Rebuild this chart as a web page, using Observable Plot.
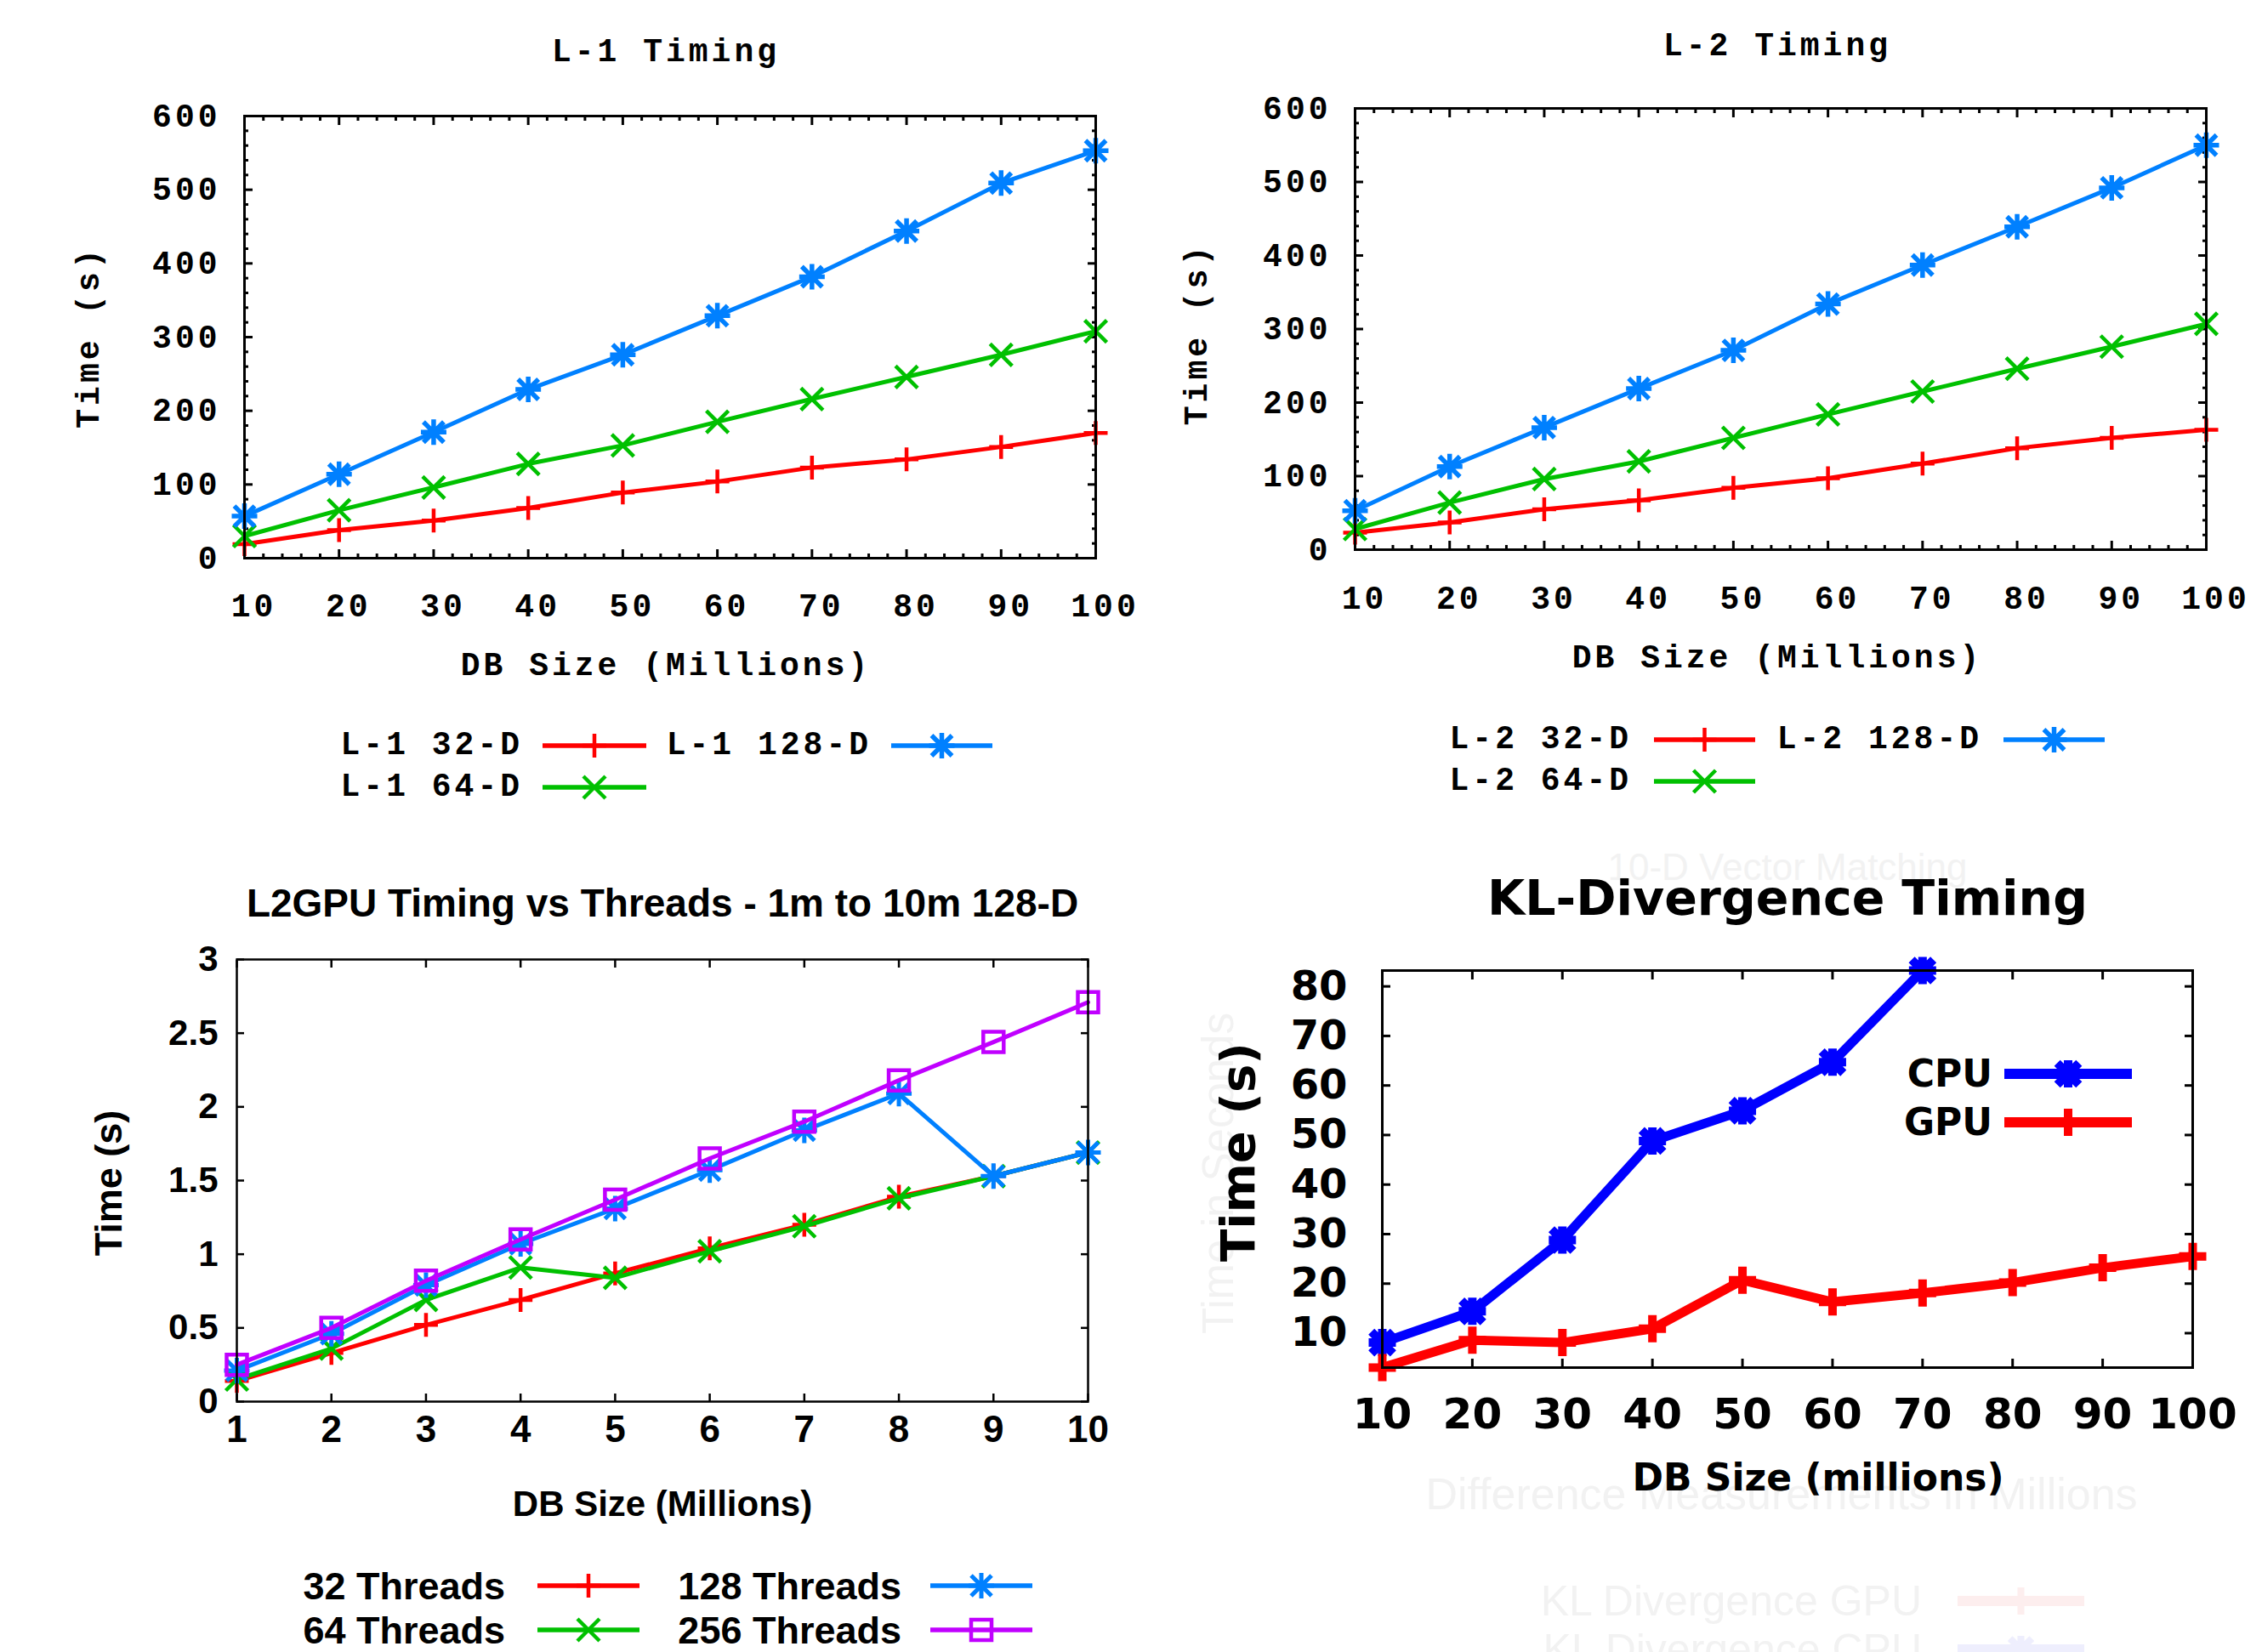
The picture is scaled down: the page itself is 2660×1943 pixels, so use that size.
<!DOCTYPE html>
<html><head><meta charset="utf-8">
<script src="https://cdn.jsdelivr.net/npm/d3@7"></script>
<script src="https://cdn.jsdelivr.net/npm/@observablehq/plot@0.6"></script>
<style>
html,body{margin:0;padding:0;background:#fff;}
#page{position:relative;width:2660px;height:1943px;overflow:hidden;background:#fff;}
</style></head>
<body><div id="page"></div>
<script>
// ---------------- DATA ----------------
const dbSizeM   = [10, 20, 30, 40, 50, 60, 70, 80, 90, 100];
// L-1 timing (s)
const l1_32D  = [19, 38, 51, 68, 89, 104, 123, 134, 151, 170];
const l1_64D  = [30, 65, 96, 128, 153, 185, 216, 246, 276, 308];
const l1_128D = [57, 114, 171, 229, 276, 329, 382, 444, 509, 553];
// L-2 timing (s)
const l2_32D  = [23, 37, 55, 67, 84, 97, 117, 138, 152, 163];
const l2_64D  = [28, 64, 96, 120, 152, 184, 215, 246, 276, 307];
const l2_128D = [53, 113, 166, 219, 271, 334, 387, 439, 492, 550];
// L2GPU timing vs threads (s)
const gpuDbSizeM = [1, 2, 3, 4, 5, 6, 7, 8, 9, 10];
const threads32  = [0.14, 0.33, 0.52, 0.69, 0.87, 1.04, 1.20, 1.39, 1.53, 1.69];
const threads64  = [0.15, 0.36, 0.69, 0.91, 0.84, 1.02, 1.19, 1.38, 1.53, 1.69];
const threads128 = [0.21, 0.46, 0.79, 1.07, 1.31, 1.57, 1.84, 2.09, 1.53, 1.69];
const threads256 = [0.25, 0.50, 0.82, 1.10, 1.37, 1.65, 1.90, 2.18, 2.44, 2.71];
// KL-Divergence timing (s)
const klDbSizeM = [10, 20, 30, 40, 50, 60, 70, 80, 90, 100];
const klCPU = [8.1, 14.4, 28.8, 48.8, 54.9, 64.7, 83.2];
const klGPU = [3.05, 8.6, 8.1, 10.9, 20.7, 16.3, 18.1, 20.2, 23.2, 25.5];
// tick labels
const timeTicks600 = [0, 100, 200, 300, 400, 500, 600];
const gpuTimeTicks = [0, 0.5, 1, 1.5, 2, 2.5, 3];
const klTimeTicks = [10, 20, 30, 40, 50, 60, 70, 80];

// ---------------- STYLE ----------------
const C = {red: "#ff0000", green: "#00c000", blue: "#0080ff", purple: "#c000ff", kBlue: "#0000ff", kRed: "#ff0000"};
const MONO = "'Liberation Mono', 'DejaVu Sans Mono', monospace";
const ARIAL = "'Liberation Sans', Arial, sans-serif";
const DEJA = "'DejaVu Sans', sans-serif";

// gnuplot-like point symbols
const rad = s => Math.sqrt(s / Math.PI);
const symPlus = {draw(c, s) { const r = rad(s); c.moveTo(-r, 0); c.lineTo(r, 0); c.moveTo(0, -r); c.lineTo(0, r); }};
const symTimes = {draw(c, s) { const r = rad(s); c.moveTo(-r, -r); c.lineTo(r, r); c.moveTo(-r, r); c.lineTo(r, -r); }};
const symStar = {draw(c, s) { const r = rad(s); c.moveTo(-r, 0); c.lineTo(r, 0); c.moveTo(0, -r); c.lineTo(0, r);
  const q = r * 0.8; c.moveTo(-q, -q); c.lineTo(q, q); c.moveTo(-q, q); c.lineTo(q, -q); }};
const symSquare = {draw(c, s) { const r = rad(s); c.moveTo(-r, -r); c.lineTo(r, -r); c.lineTo(r, r); c.lineTo(-r, r); c.closePath(); }};

const page = document.getElementById("page");
function place(node, left, top) {
  node.style.position = "absolute"; node.style.left = left + "px"; node.style.top = top + "px";
  page.append(node);
}

function tickAxes(xT, yT, len, w) {
  const o = {tickSize: -len, tickFormat: () => "", label: null, strokeWidth: w};
  return [
    Plot.axisX(xT, {anchor: "bottom", ...o}),
    Plot.axisX(xT, {anchor: "top", ...o}),
    Plot.axisY(yT, {anchor: "left", ...o}),
    Plot.axisY(yT, {anchor: "right", ...o})
  ];
}

function seriesMarks(xs, ys, s) {
  const data = ys.map((v, i) => ({x: xs[i], y: v}));
  return [
    Plot.line(data, {x: "x", y: "y", stroke: s.color, strokeWidth: s.lineW}),
    Plot.dot(data, {x: "x", y: "y", symbol: s.symbol, r: s.r, stroke: s.color, strokeWidth: s.markW, fill: "none"})
  ];
}

const fmt = d => String(d);
function panel(cfg) {
  const marks = [];
  if (cfg.under) marks.push(...cfg.under);
  marks.push(...tickAxes(cfg.xTicks, cfg.yTicks, cfg.tickLen, cfg.tickW));
  if (cfg.xMinor) marks.push(...tickAxes(cfg.xMinor, cfg.yMinor, cfg.minorLen, cfg.tickW));
  marks.push(Plot.axisX(cfg.xTicks, {anchor: "bottom", tickSize: 0, tickPadding: cfg.xPad, dx: cfg.xDx || 0, label: null, tickFormat: fmt, fontSize: cfg.tickFont}));
  marks.push(Plot.axisY(cfg.yTicks, {anchor: "left", tickSize: 0, tickPadding: cfg.yPad, dy: cfg.yDy || 0, label: null, tickFormat: fmt, fontSize: cfg.yTickFont || cfg.tickFont}));
  for (const s of cfg.series) marks.push(...seriesMarks(s.xs, s.ys, s));
  marks.push(Plot.frame({stroke: "black", strokeWidth: cfg.frameW}));
  marks.push(Plot.text([cfg.title], {text: d => d, frameAnchor: "top", lineAnchor: "middle", textAnchor: "middle", dy: cfg.titleDy, dx: cfg.titleDx || 0, fontSize: cfg.titleFont}));
  marks.push(Plot.text([cfg.xLabel], {text: d => d, frameAnchor: "bottom", lineAnchor: "middle", textAnchor: "middle", dy: cfg.xLabelDy, dx: cfg.xLabelDx || 0, fontSize: cfg.xLabelFont}));
  marks.push(Plot.text([cfg.yLabel], {text: d => d, frameAnchor: "left", lineAnchor: "middle", textAnchor: "middle", rotate: -90, dx: cfg.yLabelDx, dy: cfg.yLabelDy || 0, fontSize: cfg.yLabelFont}));
  const svg = Plot.plot({
    width: cfg.width, height: cfg.height,
    marginTop: cfg.margin[0], marginRight: cfg.margin[1], marginBottom: cfg.margin[2], marginLeft: cfg.margin[3],
    x: {domain: cfg.xDomain}, y: {domain: cfg.yDomain},
    style: Object.assign({background: "transparent", color: "black", overflow: "visible", fontFamily: cfg.font, fontWeight: "bold"}, cfg.style || {}),
    marks
  });
  place(svg, cfg.left, cfg.top);
}

function legend(items, font) {
  for (const it of items) {
    const t = document.createElement("div");
    t.textContent = it.label;
    Object.assign(t.style, {position: "absolute", right: (2660 - it.textRight - (font.trail || 0)) + "px", top: it.y + "px",
      transform: "translateY(-50%)", fontFamily: font.family, fontSize: font.size + "px", fontWeight: font.weight || "bold",
      letterSpacing: (font.spacing || 0) + "px", whiteSpace: "nowrap", lineHeight: "1", color: it.textColor || "black"});
    page.append(t);
    const w = it.x2 - it.x1, h = 60;
    const svg = d3.create("svg").attr("width", w + 40).attr("height", h).style("overflow", "visible");
    svg.append("line").attr("x1", 20).attr("x2", 20 + w).attr("y1", h / 2).attr("y2", h / 2)
      .attr("stroke", it.color).attr("stroke-width", it.lineW);
    svg.append("path").attr("d", d3.symbol(it.symbol, Math.PI * it.r * it.r)())
      .attr("transform", `translate(${20 + w / 2},${h / 2})`)
      .attr("fill", "none").attr("stroke", it.color).attr("stroke-width", it.markW);
    place(svg.node(), it.x1 - 20, it.y - h / 2);
  }
}

// ---------------- PANEL 1: L-1 ----------------
const monoStyle = {fontSize: "38px", letterSpacing: "4px"};
const xMinor100 = d3.range(10, 101, 2).filter(v => v % 10);
const yMinor600 = d3.range(0, 601, 20).filter(v => v % 100);
const monoSeries = (a, b, c) => [
  {xs: dbSizeM, ys: a, color: C.red, symbol: symPlus, r: 14, lineW: 5, markW: 4.5},
  {xs: dbSizeM, ys: b, color: C.green, symbol: symTimes, r: 13, lineW: 5, markW: 4.5},
  {xs: dbSizeM, ys: c, color: C.blue, symbol: symStar, r: 15, lineW: 5, markW: 5.5}
];
panel({
  left: 0, top: 0, width: 1330, height: 830, margin: [136, 42, 174, 287],
  xDomain: [10, 100], yDomain: [0, 600], xTicks: dbSizeM, yTicks: timeTicks600, xMinor: xMinor100, yMinor: yMinor600,
  tickLen: 10, minorLen: 5, tickW: 3, frameW: 3, font: MONO, style: monoStyle,
  xPad: 42, xDx: 11, yPad: 28, tickFont: 38,
  series: monoSeries(l1_32D, l1_64D, l1_128D),
  title: "L-1 Timing", titleDy: -77, titleDx: -5, titleFont: 38,
  xLabel: "DB Size (Millions)", xLabelDy: 125, xLabelDx: -5, xLabelFont: 38,
  yLabel: "Time (s)", yLabelDx: -184, yLabelFont: 38
});
// ---------------- PANEL 2: L-2 ----------------
panel({
  left: 1330, top: 0, width: 1330, height: 830, margin: [127, 66, 184, 263],
  xDomain: [10, 100], yDomain: [0, 600], xTicks: dbSizeM, yTicks: timeTicks600, xMinor: xMinor100, yMinor: yMinor600,
  tickLen: 10, minorLen: 5, tickW: 3, frameW: 3, font: MONO, style: monoStyle,
  xPad: 43, xDx: 11, yPad: 28, tickFont: 38,
  series: monoSeries(l2_32D, l2_64D, l2_128D),
  title: "L-2 Timing", titleDy: -75, titleDx: -4, titleFont: 38,
  xLabel: "DB Size (Millions)", xLabelDy: 126, xLabelDx: -4, xLabelFont: 38,
  yLabel: "Time (s)", yLabelDx: -187, yLabelDy: 6, yLabelFont: 38
});
const monoFont = {family: MONO, size: 38, spacing: 4, trail: 4};
legend([
  {label: "L-1 32-D", textRight: 611, x1: 638, x2: 760, y: 877, color: C.red, symbol: symPlus, r: 14, lineW: 5.5, markW: 4.5},
  {label: "L-1 128-D", textRight: 1021, x1: 1048, x2: 1167, y: 877, color: C.blue, symbol: symStar, r: 15, lineW: 5.5, markW: 5.5},
  {label: "L-1 64-D", textRight: 611, x1: 638, x2: 760, y: 926, color: C.green, symbol: symTimes, r: 13, lineW: 5.5, markW: 4.5},
  {label: "L-2 32-D", textRight: 1915, x1: 1945, x2: 2064, y: 870, color: C.red, symbol: symPlus, r: 14, lineW: 5.5, markW: 4.5},
  {label: "L-2 128-D", textRight: 2327, x1: 2356, x2: 2475, y: 870, color: C.blue, symbol: symStar, r: 15, lineW: 5.5, markW: 5.5},
  {label: "L-2 64-D", textRight: 1915, x1: 1945, x2: 2064, y: 919, color: C.green, symbol: symTimes, r: 13, lineW: 5.5, markW: 4.5}
], monoFont);

// ---------------- PANEL 3: L2GPU threads ----------------
panel({
  left: 0, top: 1000, width: 1330, height: 800, margin: [128, 51, 152, 278],
  xDomain: [1, 10], yDomain: [0, 3], xTicks: gpuDbSizeM, yTicks: gpuTimeTicks,
  tickLen: 9, tickW: 2.5, frameW: 2.5, font: ARIAL, style: {fontSize: "42px"},
  xPad: 16, yPad: 22, tickFont: 44, yTickFont: 42,
  series: [
    {xs: gpuDbSizeM, ys: threads32, color: C.red, symbol: symPlus, r: 14, lineW: 5, markW: 4.5},
    {xs: gpuDbSizeM, ys: threads64, color: C.green, symbol: symTimes, r: 13, lineW: 5, markW: 4.5},
    {xs: gpuDbSizeM, ys: threads128, color: C.blue, symbol: symStar, r: 15, lineW: 5, markW: 5},
    {xs: gpuDbSizeM, ys: threads256, color: C.purple, symbol: symSquare, r: 12, lineW: 5, markW: 4.5}
  ],
  title: "L2GPU Timing vs Threads - 1m to 10m 128-D", titleDy: -65, titleFont: 46,
  xLabel: "DB Size (Millions)", xLabelDy: 121, xLabelFont: 42,
  yLabel: "Time (s)", yLabelDx: -150, yLabelDy: 3, yLabelFont: 45
});
legend([
  {label: "32 Threads", textRight: 594, x1: 632, x2: 752, y: 1865, color: C.red, symbol: symPlus, r: 14, lineW: 5.5, markW: 4.5},
  {label: "128 Threads", textRight: 1060, x1: 1094, x2: 1214, y: 1865, color: C.blue, symbol: symStar, r: 15, lineW: 5.5, markW: 5},
  {label: "64 Threads", textRight: 594, x1: 632, x2: 752, y: 1917, color: C.green, symbol: symTimes, r: 13, lineW: 5.5, markW: 4.5},
  {label: "256 Threads", textRight: 1060, x1: 1094, x2: 1214, y: 1917, color: C.purple, symbol: symSquare, r: 12, lineW: 5.5, markW: 4.5}
], {family: ARIAL, size: 45});

// ---------------- PANEL 4: KL-Divergence ----------------
const ghost = "#f2f2f2";
const ghostText = {fill: ghost, fontWeight: "normal", fontFamily: ARIAL, lineAnchor: "middle", textAnchor: "middle"};
panel({
  left: 1330, top: 1000, width: 1330, height: 943, margin: [141, 82, 335, 295],
  xDomain: [10, 100], yDomain: d3.extent([...klCPU, ...klGPU]), xTicks: klDbSizeM, yTicks: klTimeTicks,
  tickLen: 10, tickW: 3, frameW: 3, font: DEJA, style: {fontSize: "48px"},
  xPad: 36, yPad: 41, tickFont: 50, yTickFont: 48,
  under: [
    Plot.text(["10-D Vector Matching"], {text: d => d, frameAnchor: "top", dy: -121, fontSize: 44, ...ghostText}),
    Plot.text(["Time in Seconds"], {text: d => d, frameAnchor: "left", rotate: -90, dx: -192, dy: 5, fontSize: 51, ...ghostText}),
    Plot.text(["Difference Measurements in Millions"], {text: d => d, frameAnchor: "bottom", dy: 150, dx: -7, fontSize: 52, ...ghostText})
  ],
  series: [
    {xs: klDbSizeM, ys: klCPU, color: C.kBlue, symbol: symStar, r: 16, lineW: 11, markW: 10},
    {xs: klDbSizeM, ys: klGPU, color: C.kRed, symbol: symPlus, r: 16, lineW: 11, markW: 10}
  ],
  title: "KL-Divergence Timing", titleDy: -84, titleFont: 57,
  xLabel: "DB Size (millions)", xLabelDy: 130, xLabelDx: 36, xLabelFont: 44,
  yLabel: "Time (s)", yLabelDx: -168, yLabelDy: -20, yLabelFont: 56
});
legend([
  {label: "CPU", textRight: 2343, x1: 2357, x2: 2507, y: 1263, color: C.kBlue, symbol: symStar, r: 16, lineW: 12, markW: 10},
  {label: "GPU", textRight: 2343, x1: 2357, x2: 2507, y: 1320, color: C.kRed, symbol: symPlus, r: 16, lineW: 12, markW: 10}
], {family: DEJA, size: 44});
legend([
  {label: "KL Divergence GPU", textRight: 2260, x1: 2302, x2: 2451, y: 1883, color: "#fdeeee", textColor: ghost, symbol: symPlus, r: 16, lineW: 12, markW: 8},
  {label: "KL Divergence CPU", textRight: 2260, x1: 2302, x2: 2451, y: 1940, color: "#eeeefd", textColor: ghost, symbol: symStar, r: 16, lineW: 12, markW: 8}
], {family: ARIAL, size: 50, weight: "normal"});
</script>
</body></html>
